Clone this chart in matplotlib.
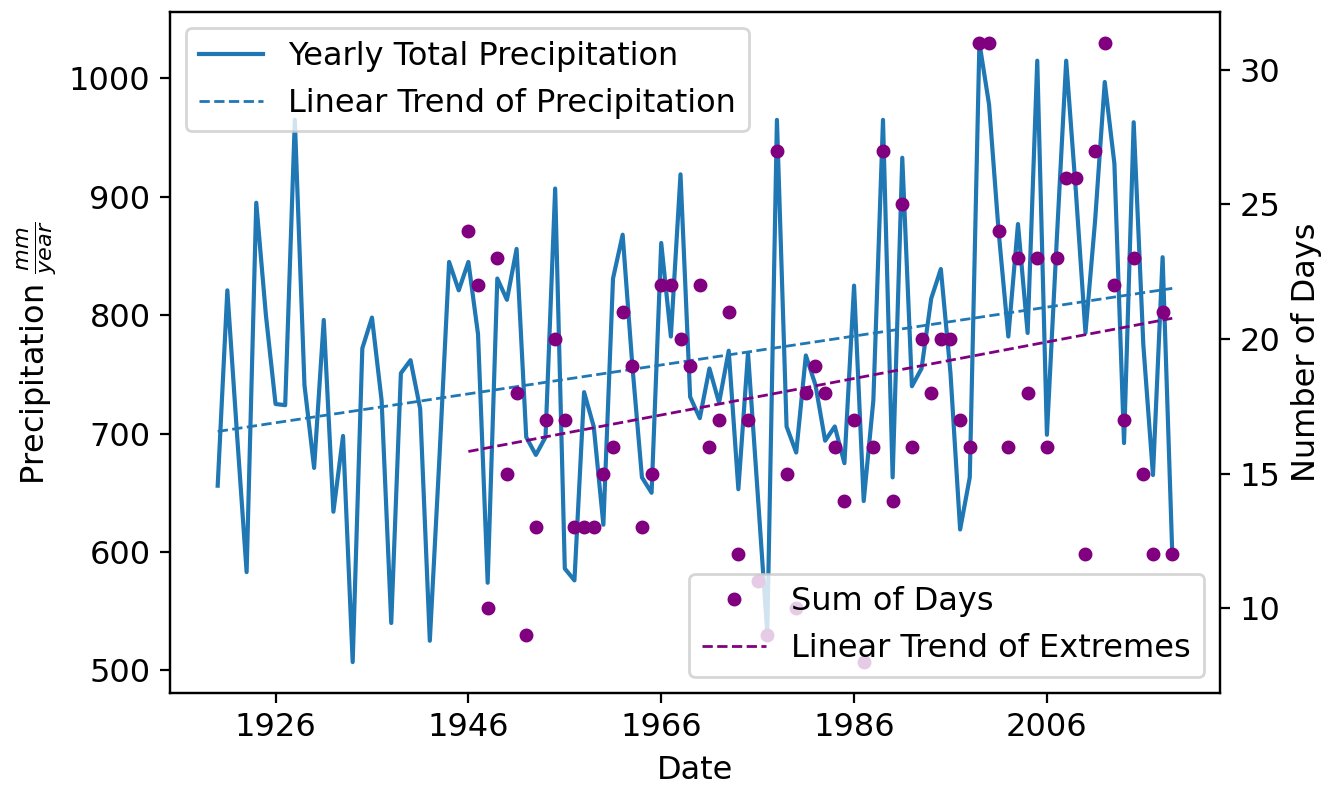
import numpy as np
import matplotlib
matplotlib.use("Agg")
import matplotlib.pyplot as plt

plt.rcParams['font.size'] = 11.5

# ---- data ----
years = list(range(1920, 2020))
precip = [656, 821, 700, 583, 895, 800, 725, 724, 965, 741,
          671, 796, 634, 698, 507, 772, 798, 728, 540, 751,
          762, 721, 525, 680, 845, 821, 845, 784, 574, 831,
          813, 856, 697, 682, 697, 907, 586, 576, 735, 706,
          623, 831, 868, 758, 663, 650, 861, 782, 919, 731,
          713, 755, 726, 770, 653, 768, 650, 531, 965, 706,
          684, 766, 741, 694, 706, 675, 825, 643, 728, 965,
          663, 933, 740, 755, 814, 839, 751, 619, 663, 1030,
          978, 870, 782, 877, 785, 1015, 699, 860, 1015, 905,
          785, 880, 997, 928, 692, 963, 775, 665, 849, 599]
day_years = list(range(1946, 2020))
days = [24, 22, 10, 23, 15, 18, 9, 13, 17, 20,
        17, 13, 13, 13, 15, 16, 21, 19, 13, 15,
        22, 22, 20, 19, 22, 16, 17, 21, 12, 17,
        11, 9, 27, 15, 10, 18, 19, 18, 16, 14,
        17, 8, 16, 27, 14, 25, 16, 20, 18, 20,
        20, 17, 16, 31, 31, 24, 16, 23, 18, 23,
        16, 23, 26, 26, 12, 27, 31, 22, 17, 23,
        15, 12, 21, 12]
tick_years = [1926, 1946, 1966, 1986, 2006]

x = np.array(years, dtype=float)
y = np.array(precip, dtype=float)
xd = np.array(day_years, dtype=float)
yd = np.array(days, dtype=float)

p1 = np.polyfit(x, y, 1)
p2 = np.polyfit(xd, yd, 1)

fig = plt.figure(figsize=(6.66, 3.935), dpi=200)
ax = fig.add_subplot(111)
fig.subplots_adjust(left=0.1276, right=0.9159, top=0.9848, bottom=0.1194)

ax.plot(x, y, color='#1f77b4', lw=1.5, label='Yearly Total Precipitation')
ax.plot(x, np.polyval(p1, x), color='#1f77b4', lw=1.0, ls='--',
        label='Linear Trend of Precipitation')
ax.set_xlabel('Date')
ax.set_ylabel(r'Precipitation $\frac{mm}{year}$')
ax.set_xticks(tick_years)
ax.set_xticklabels([str(t) for t in tick_years])
ax.legend(loc='upper left')

ax2 = ax.twinx()
ax2.plot(xd, yd, 'o', color='purple', ms=4, label='Sum of Days')
ax2.plot(xd, np.polyval(p2, xd), color='purple', lw=1.0, ls='--',
         label='Linear Trend of Extremes')
ax2.set_ylabel('Number of Days')
ax2.legend(loc='lower right')

fig.savefig('out.png', dpi=200)
